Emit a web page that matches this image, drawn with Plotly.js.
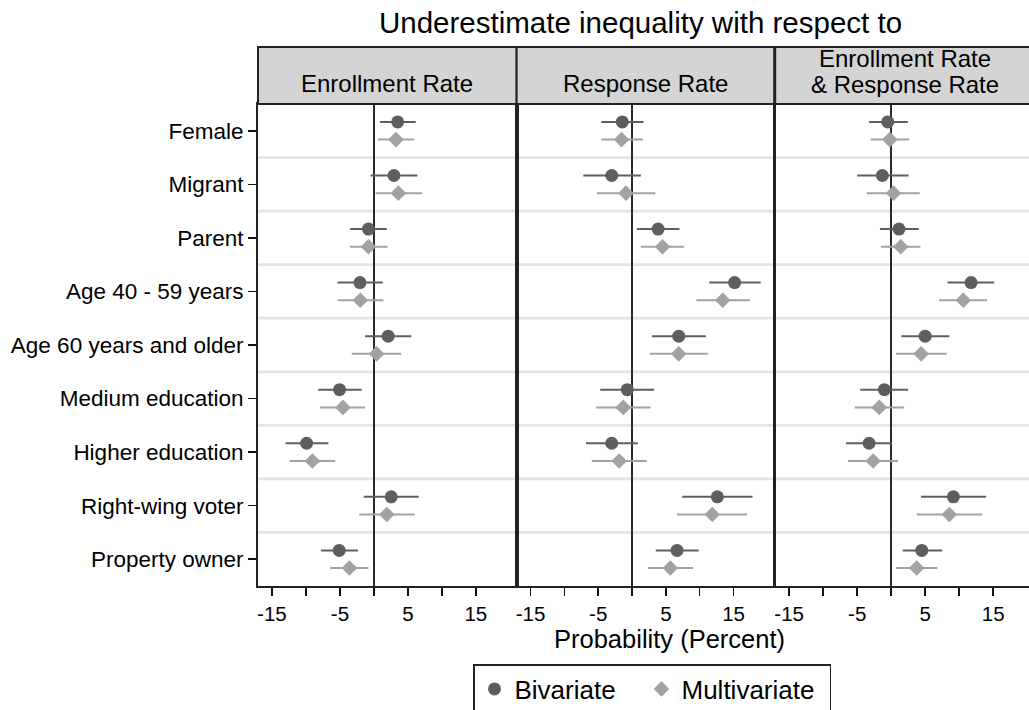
<!DOCTYPE html>
<html>
<head>
<meta charset="utf-8">
<script src="https://cdn.plot.ly/plotly-3.0.1.min.js"></script>
<style>
html,body{margin:0;padding:0;overflow:hidden;background:#fff;}
#chart{width:1036px;height:710px;}
</style>
</head>
<body>
<div id="chart"></div>
<script>
const categories = ['Female','Migrant','Parent','Age 40 - 59 years','Age 60 years and older','Medium education','Higher education','Right-wing voter','Property owner'];
const panelTitles = ['Enrollment Rate','Response Rate',['Enrollment Rate','& Response Rate']];
const seriesNames = ['Bivariate','Multivariate'];
const xTickVals = [-15,-10,-5,0,5,10,15];
const xTickText = ['-15','','-5','','5','','15'];

const enrollBiv     = [3.5, 2.95, -0.8, -2.05, 2.1, -5.05, -9.9, 2.55, -5.1];
const enrollBivLo   = [0.9, -0.5, -3.5, -5.35, -1.3, -8.2, -13.0, -1.5, -7.8];
const enrollBivHi   = [6.15, 6.4, 1.9, 1.3, 5.5, -1.8, -6.7, 6.6, -2.35];
const enrollMulti   = [3.25, 3.6, -0.8, -2.0, 0.4, -4.55, -9.05, 1.9, -3.6];
const enrollMultiLo = [0.6, 0.25, -3.5, -5.35, -3.25, -7.9, -12.4, -2.15, -6.45];
const enrollMultiHi = [5.95, 7.1, 2.0, 1.4, 4.0, -1.3, -5.7, 6.0, -0.8];

const respBiv     = [-1.45, -3.0, 3.85, 15.15, 6.9, -0.7, -3.0, 12.6, 6.65];
const respBivLo   = [-4.55, -7.2, 0.7, 11.4, 2.95, -4.7, -6.8, 7.4, 3.5];
const respBivHi   = [1.7, 1.3, 7.0, 19.0, 10.9, 3.25, 0.85, 17.8, 9.85];
const respMulti   = [-1.55, -0.9, 4.5, 13.4, 6.9, -1.3, -1.9, 11.85, 5.65];
const respMultiLo = [-4.55, -5.2, 1.3, 9.5, 2.6, -5.3, -5.95, 6.65, 2.35];
const respMultiHi = [1.6, 3.45, 7.7, 17.4, 11.2, 2.7, 2.15, 17.0, 9.0];

const bothBiv     = [-0.5, -1.3, 1.15, 11.75, 5.0, -1.0, -3.25, 9.15, 4.5];
const bothBivLo   = [-3.25, -5.0, -1.65, 8.3, 1.5, -4.55, -6.65, 4.4, 1.7];
const bothBivHi   = [2.45, 2.55, 4.05, 15.15, 8.55, 2.5, 0.1, 13.95, 7.5];
const bothMulti   = [-0.2, 0.35, 1.4, 10.6, 4.4, -1.75, -2.65, 8.55, 3.75];
const bothMultiLo = [-3.0, -3.6, -1.5, 7.05, 0.7, -5.35, -6.35, 3.75, 0.7];
const bothMultiHi = [2.65, 4.2, 4.3, 14.1, 8.15, 1.9, 1.0, 13.4, 6.8];

const panels = [
  {biv:[enrollBiv,enrollBivLo,enrollBivHi], multi:[enrollMulti,enrollMultiLo,enrollMultiHi]},
  {biv:[respBiv,respBivLo,respBivHi], multi:[respMulti,respMultiLo,respMultiHi]},
  {biv:[bothBiv,bothBivLo,bothBivHi], multi:[bothMulti,bothMultiLo,bothMultiHi]}
];

const FONT = 'Arial, "Liberation Sans", Helvetica, sans-serif';
const n = categories.length;
const rowPos = categories.map((c,i) => n-1-i);
const styles = {
  biv:   {name: seriesNames[0], symbol:'circle', size:13, color:'#5e5e5e', off: 0.165, lw: 122},
  multi: {name: seriesNames[1], symbol:'diamond', size:12, color:'#a2a2a2', off: -0.165, lw: 143}
};

const traces = [];
panels.forEach((p, pi) => {
  ['biv','multi'].forEach(key => {
    const [est, lo, hi] = p[key];
    const s = styles[key];
    traces.push({
      type:'scatter', mode:'markers',
      x: est,
      y: rowPos.map(v => v + s.off),
      name: s.name,
      showlegend: pi === 0,
      legendrank: key === 'biv' ? 1 : 2,
      legendwidth: s.lw,
      xaxis: pi === 0 ? 'x' : 'x' + (pi+1),
      yaxis: pi === 0 ? 'y' : 'y' + (pi+1),
      marker: {symbol: s.symbol, size: s.size, color: s.color, line:{width:0}},
      error_x: {type:'data', symmetric:false,
        array: hi.map((h,i) => h - est[i]),
        arrayminus: lo.map((l,i) => est[i] - l),
        color: s.color, thickness: 2, width: 0},
      hoverinfo:'skip'
    });
  });
});

const W = 1036, H = 710;
const ML = 258, MR = 2, MT = 104, MB = 124;
const PW = W - ML - MR, PH = H - MT - MB;
const py = p => (H - MB - p) / PH;   // pixel y -> paper y
const px = p => (p - ML) / PW;       // pixel x -> paper x

const domains = [[0, 0.3333], [0.3333, 0.6652], [0.6665, 1]];
const xRange = [-17.05, 21.0];

const layout = {
  width: W, height: H,
  margin: {l: ML, r: MR, t: MT, b: MB, autoexpand: false},
  paper_bgcolor: '#fff', plot_bgcolor: '#fff',
  font: {family: FONT, color: '#000', size: 21},
  showlegend: true,
  legend: {orientation:'h', x: px(473), xanchor:'left', y: py(664), yanchor:'top',
    bordercolor:'#222', borderwidth: 1.5, bgcolor:'#fff',
    font:{family: FONT, size: 26, color:'#000'}, traceorder:'normal'},
  shapes: [],
  annotations: []
};

domains.forEach((d, i) => {
  const xa = i === 0 ? 'xaxis' : 'xaxis' + (i+1);
  const ya = i === 0 ? 'yaxis' : 'yaxis' + (i+1);
  const xid = i === 0 ? 'x' : 'x' + (i+1);
  const yid = i === 0 ? 'y' : 'y' + (i+1);
  layout[xa] = {
    domain: d, anchor: yid, range: xRange, fixedrange: true,
    tickmode:'array', tickvals: xTickVals, ticktext: xTickText,
    ticks:'outside', ticklen: 8, tickwidth: 1.5, tickcolor:'#111',
    showline: true, mirror: true, linecolor:'#222', linewidth: 2,
    showgrid: false, zeroline: true, zerolinecolor:'#2a2a2a', zerolinewidth: 2.5,
    tickfont: {family: FONT, size: 20.5, color:'#000'}
  };
  layout[ya] = {
    domain: [0,1], anchor: xid, range: [-0.5, n - 0.5], fixedrange: true,
    tickmode:'array', tickvals: rowPos, ticktext: categories,
    showticklabels: i === 0, ticks: i === 0 ? 'outside' : '', ticklen: 8, tickwidth: 1.5, tickcolor:'#111',
    showline: true, mirror: true, linecolor:'#222', linewidth: 2,
    showgrid: false, zeroline: false,
    tickfont: {family: FONT, size: 22.5, color:'#000'}
  };
  // header box
  layout.shapes.push({type:'rect', xref: xid + ' domain', yref:'paper',
    x0: 0, x1: 1, y0: 1, y1: py(47), fillcolor:'#d4d4d4', line:{color:'#222', width:2}, layer:'above'});
  // separators
  for (let k = 0; k < n - 1; k++) {
    layout.shapes.push({type:'line', xref: xid + ' domain', yref: yid,
      x0: 0, x1: 1, y0: k + 0.5, y1: k + 0.5, line:{color:'#e4e4e4', width:2.8}, layer:'below'});
  }
  // header text
  const t = panelTitles[i];
  const cx = 0.5;
  if (Array.isArray(t)) {
    layout.annotations.push({xref: xid + ' domain', yref:'paper', x: cx, y: py(58), text: t[0],
      showarrow:false, xanchor:'center', yanchor:'middle', height: 26, font:{family:FONT, size:24, color:'#000'}});
    layout.annotations.push({xref: xid + ' domain', yref:'paper', x: cx, y: py(84.5), text: t[1],
      showarrow:false, xanchor:'center', yanchor:'middle', height: 26, font:{family:FONT, size:24, color:'#000'}});
  } else {
    layout.annotations.push({xref: xid + ' domain', yref:'paper', x: cx, y: py(84), text: t,
      showarrow:false, xanchor:'center', yanchor:'middle', font:{family:FONT, size:24, color:'#000'}});
  }
});

layout.annotations.push({xref:'paper', yref:'paper', x: px(640), y: py(23), text:'Underestimate inequality with respect to',
  showarrow:false, xanchor:'center', yanchor:'middle', font:{family:FONT, size:29.5, color:'#000'}});
layout.annotations.push({xref:'paper', yref:'paper', x: px(669), y: py(639), text:'Probability (Percent)',
  showarrow:false, xanchor:'center', yanchor:'middle', font:{family:FONT, size:25.5, color:'#000'}});

Plotly.newPlot('chart', traces, layout, {staticPlot:true, displayModeBar:false});
</script>
</body>
</html>
